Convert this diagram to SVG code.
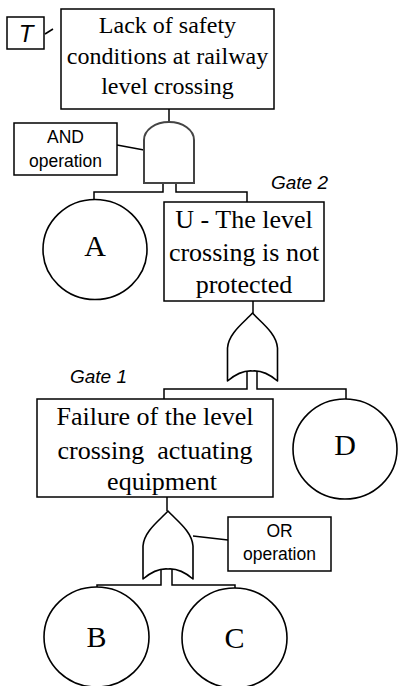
<svg xmlns="http://www.w3.org/2000/svg" width="398" height="686" viewBox="0 0 398 686">
<style>
.box{fill:#fff;stroke:#000;stroke-width:1.5}
.ev{fill:#fff;stroke:#000;stroke-width:1.6}
.gate{fill:#fff;stroke:#000;stroke-width:1.6;stroke-linejoin:round}
.and{fill:#fff;stroke:#444;stroke-width:2}
.ln{fill:none;stroke:#000;stroke-width:1.5}
.serif{font-family:"Liberation Serif","Times New Roman",serif;fill:#000}
.t26{font-size:26px}
.t24{font-size:24px}
.let{font-size:30px}
.sans{font-family:"Liberation Sans",Arial,sans-serif;fill:#000}
.lbl{font-size:17.5px}
.gl{font-size:19px;font-style:italic}
</style>
<defs>
<path id="orShape" d="M0,0 C-8,9 -24,20 -25,35 L-25,68 Q-12,57 0,58 Q12,57 25,68 L25,35 C24,20 8,9 0,0 Z"/>
</defs>

<g id="connectors">
<line class="ln" x1="45" y1="34" x2="53" y2="29"/>
<line class="ln" x1="169" y1="109" x2="169" y2="122"/>
<line class="ln" x1="117" y1="145" x2="144" y2="150"/>
<polyline class="ln" points="163,183 163,192 94,192 94,200"/>
<polyline class="ln" points="176,183 176,192 247,192 247,202"/>
<line class="ln" x1="253" y1="301" x2="253" y2="313"/>
<polyline class="ln" points="247,370 247,389 164,389 164,399"/>
<polyline class="ln" points="257,370 257,389 346,389 346,399"/>
<line class="ln" x1="167" y1="497" x2="167" y2="511"/>
<line class="ln" x1="193" y1="536" x2="228" y2="540"/>
<polyline class="ln" points="161,568 161,585 97,585 97,587"/>
<polyline class="ln" points="172,568 172,585 235,585 235,588"/>
</g>

<g id="T">
<rect class="box" x="7" y="17" width="37" height="32"/>
<text class="sans" x="26" y="42" font-size="24" font-style="italic" text-anchor="middle">T</text>
</g>

<g id="top">
<rect class="box" x="61" y="9" width="213" height="100"/>
<text class="serif t24" text-anchor="middle"><tspan x="167.5" y="33">Lack of safety</tspan><tspan x="167.5" y="64">conditions at railway</tspan><tspan x="167.5" y="94">level crossing</tspan></text>
</g>

<g id="andGate">
<path class="and" d="M144,183 L144,140 A25,18 0 0 1 194,140 L194,183 Z"/>
</g>

<g id="andLabel">
<rect class="box" x="14" y="123" width="103" height="52"/>
<text class="sans lbl" text-anchor="middle"><tspan x="65.5" y="143">AND</tspan><tspan x="65.5" y="167">operation</tspan></text>
</g>

<g id="gate2Label">
<text class="sans gl" x="271" y="189">Gate 2</text>
</g>

<g id="A">
<ellipse class="ev" cx="95" cy="249.5" rx="52" ry="50"/>
<text class="serif let" x="95" y="256" text-anchor="middle">A</text>
</g>

<g id="U">
<rect class="box" x="164" y="202" width="160" height="99"/>
<text class="serif t26" text-anchor="middle"><tspan x="244" y="228">U - The level</tspan><tspan x="244" y="261">crossing is not</tspan><tspan x="244" y="293">protected</tspan></text>
</g>

<g id="orGate2">
<use href="#orShape" class="gate" x="252.5" y="313"/>
</g>

<g id="gate1Label">
<text class="sans gl" x="70" y="383">Gate 1</text>
</g>

<g id="failure">
<rect class="box" x="37" y="399" width="236" height="98"/>
<text class="serif t26" text-anchor="middle" xml:space="preserve"><tspan x="155" y="425">Failure of the level</tspan><tspan x="155" y="459">crossing  actuating</tspan><tspan x="162" y="490">equipment</tspan></text>
</g>

<g id="D">
<ellipse class="ev" cx="345" cy="449" rx="52" ry="50"/>
<text class="serif let" x="345" y="455" text-anchor="middle">D</text>
</g>

<g id="orGate1">
<use href="#orShape" class="gate" x="168" y="511"/>
</g>

<g id="orLabel">
<rect class="box" x="228" y="517" width="103" height="54"/>
<text class="sans lbl" text-anchor="middle"><tspan x="279.5" y="537">OR</tspan><tspan x="279.5" y="560">operation</tspan></text>
</g>

<g id="B">
<ellipse class="ev" cx="96.5" cy="637" rx="52.5" ry="50"/>
<text class="serif let" x="96.5" y="647" text-anchor="middle">B</text>
</g>

<g id="C">
<ellipse class="ev" cx="234.5" cy="638" rx="52.5" ry="50"/>
<text class="serif let" x="234.5" y="648" text-anchor="middle">C</text>
</g>
</svg>
